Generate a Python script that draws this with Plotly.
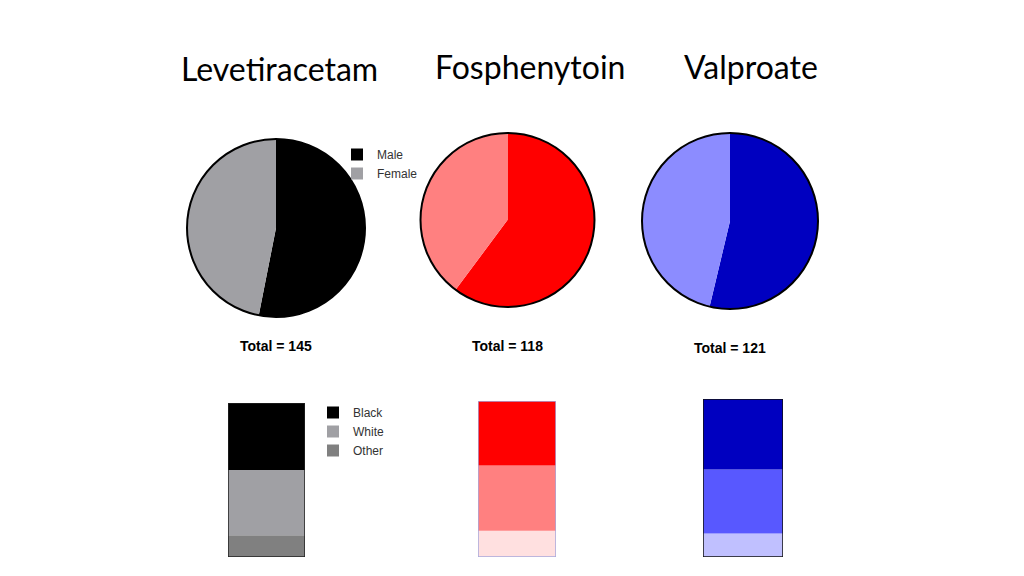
import plotly.graph_objects as go

W, H = 1024, 576

drugs = ["Levetiracetam", "Fosphenytoin", "Valproate"]
totals = [145, 118, 121]

sex_labels = ["Male", "Female"]
male = [77, 71, 65]
female = [68, 47, 56]

# race split (% of each bar)
race_labels = ["Black", "White", "Other"]
black = [43.5, 41.4, 44.6]
white = [42.4, 41.7, 40.6]
other = [14.1, 16.9, 14.8]

# colours per drug
pie_colors = [["#000000", "#a0a0a4"], ["#ff0000", "#ff8080"], ["#0000c0", "#8c8cff"]]
bar_colors = [["#000000", "#a0a0a4", "#808080"],
              ["#ff0000", "#ff8080", "#ffe0e0"],
              ["#0000c0", "#5858ff", "#c0c0ff"]]
bar_outline = ["#222222", "#a8a8dc", "#111111"]

# layout boxes in pixels (left, top, right, bottom)
pie_boxes = [(187, 139, 365, 317), (420, 133, 595, 307), (642, 133, 818, 309)]
bar_boxes = [(228, 403, 305, 557), (478, 401, 556, 557), (703, 399, 783, 557)]
title_pos = [(279, 69), (530, 67), (751, 67)]
total_pos = [(276, 346), (507, 346), (730, 348)]


def px(x):
    return x / W


def py(y):
    return 1 - y / H


fig = go.Figure()

for i, drug in enumerate(drugs):
    l, t, r, b = pie_boxes[i]
    dom = dict(x=[px(l), px(r)], y=[py(b), py(t)])
    fig.add_trace(go.Pie(
        labels=sex_labels, values=[male[i], female[i]],
        domain=dom, sort=False, direction="clockwise", rotation=0,
        marker=dict(colors=pie_colors[i], line=dict(width=0)),
        textinfo="none", hoverinfo="label+value",
        showlegend=(i == 0), legend="legend",
    ))
    # outer ring only
    fig.add_trace(go.Pie(
        labels=["all"], values=[male[i] + female[i]],
        domain=dom, sort=False,
        marker=dict(colors=["rgba(0,0,0,0)"], line=dict(color="#000000", width=2)),
        textinfo="none", hoverinfo="skip", showlegend=False,
    ))

race_vals = [black, white, other]
for i, drug in enumerate(drugs):
    l, t, r, b = bar_boxes[i]
    xa = "x" if i == 0 else f"x{i + 1}"
    ya = "y" if i == 0 else f"y{i + 1}"
    base = 0
    # stack from bottom: Other, White, Black
    for k in [2, 1, 0]:
        v = race_vals[k][i]
        fig.add_trace(go.Bar(
            x=[drug], y=[v], base=[base], width=1,
            marker=dict(color=bar_colors[i][k], line=dict(width=0)),
            name=race_labels[k], legend="legend2", legendrank=k,
            showlegend=(i == 0), xaxis=xa, yaxis=ya,
        ))
        base += v
    fig.add_trace(go.Bar(
        x=[drug], y=[base], base=[0], width=1,
        marker=dict(color="rgba(0,0,0,0)", line=dict(color=bar_outline[i], width=1.5)),
        showlegend=False, hoverinfo="skip", xaxis=xa, yaxis=ya,
    ))
    ax = dict(domain=[px(l), px(r)], visible=False, fixedrange=True)
    ay = dict(domain=[py(b), py(t)], range=[0, base], visible=False, fixedrange=True)
    fig.layout["xaxis" if i == 0 else f"xaxis{i + 1}"] = ax
    fig.layout["yaxis" if i == 0 else f"yaxis{i + 1}"] = ay

annotations = []
for i, drug in enumerate(drugs):
    x, y = title_pos[i]
    annotations.append(dict(text=drug, x=px(x), y=py(y), xref="paper", yref="paper",
                            xanchor="center", yanchor="middle", showarrow=False,
                            font=dict(family="Lato", size=32, color="#000000")))
    x, y = total_pos[i]
    annotations.append(dict(text=f"<b>Total = {totals[i]}</b>", x=px(x), y=py(y),
                            xref="paper", yref="paper", xanchor="center", yanchor="middle",
                            showarrow=False,
                            font=dict(family="Liberation Sans", size=14, color="#000000")))

fig.update_layout(
    width=W, height=H,
    margin=dict(l=0, r=0, t=0, b=0),
    paper_bgcolor="white", plot_bgcolor="white",
    barmode="overlay",
    annotations=annotations,
    legend=dict(x=px(337), y=py(140), xanchor="left", yanchor="top",
                font=dict(family="Liberation Sans", size=12, color="#333333"),
                bgcolor="rgba(0,0,0,0)"),
    legend2=dict(x=px(313), y=py(398), xanchor="left", yanchor="top",
                 font=dict(family="Liberation Sans", size=12, color="#333333"),
                 bgcolor="rgba(0,0,0,0)"),
)

# drop the default 8px body margin so paper pixels line up with the window
fig.write_html("out.html", config={"displayModeBar": False},
               post_script="document.body.style.margin='0';")
